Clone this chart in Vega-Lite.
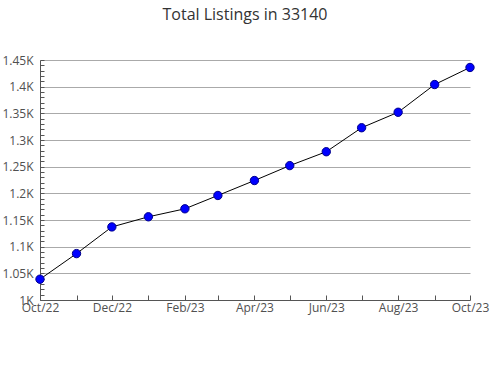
{
  "$schema": "https://vega.github.io/schema/vega-lite/v6.json",
  "autosize": "none",
  "width": 430,
  "height": 240,
  "padding": {"left": 40, "top": 60, "right": 20, "bottom": 80},
  "background": "white",
  "title": {
    "text": "Total Listings in 33140",
    "font": "Open Sans",
    "fontSize": 16,
    "fontWeight": "normal",
    "color": "#333333",
    "anchor": "middle",
    "frame": "group",
    "dx": -10,
    "offset": 31
  },
  "config": {
    "view": {"stroke": null},
    "axis": {"labelFont": "Open Sans", "labelFontSize": 12, "labelColor": "#505050"}
  },
  "data": {
    "values": [
      {"month": "2022-10-01", "listings": 1039},
      {"month": "2022-11-01", "listings": 1087},
      {"month": "2022-12-01", "listings": 1137},
      {"month": "2023-01-01", "listings": 1156},
      {"month": "2023-02-01", "listings": 1171},
      {"month": "2023-03-01", "listings": 1196},
      {"month": "2023-04-01", "listings": 1224},
      {"month": "2023-05-01", "listings": 1252},
      {"month": "2023-06-01", "listings": 1278},
      {"month": "2023-07-01", "listings": 1323},
      {"month": "2023-08-01", "listings": 1352},
      {"month": "2023-09-01", "listings": 1404},
      {"month": "2023-10-01", "listings": 1436}
    ]
  },
  "encoding": {
    "x": {
      "field": "month",
      "type": "temporal",
      "scale": {"type": "utc", "domain": ["2022-10-01", "2023-10-01"], "nice": false},
      "axis": {
        "title": null,
        "grid": false,
        "domainColor": "#555555",
        "tickColor": "#555555",
        "tickSize": -5,
        "labelPadding": 7,
        "tickCount": {"interval": "month", "step": 1},
        "labelExpr": "utcmonth(datum.value) % 2 == 1 ? utcFormat(datum.value, '%b/%y') : ''",
        "labelOverlap": false,
        "labelFlush": false
      }
    },
    "y": {
      "field": "listings",
      "type": "quantitative",
      "scale": {"domain": [1000, 1450], "nice": false, "zero": false},
      "axis": {
        "title": null,
        "values": [1000,1010,1020,1030,1040,1050,1060,1070,1080,1090,1100,1110,1120,1130,1140,1150,1160,1170,1180,1190,1200,1210,1220,1230,1240,1250,1260,1270,1280,1290,1300,1310,1320,1330,1340,1350,1360,1370,1380,1390,1400,1410,1420,1430,1440,1450],
        "labelExpr": "datum.value % 50 == 0 ? (datum.value / 1000) + 'K' : ''",
        "grid": true,
        "gridColor": "#aaaaaa",
        "gridOpacity": {"condition": {"test": "datum.value % 50 == 0 && datum.value > 1000", "value": 1}, "value": 0},
        "domainColor": "#555555",
        "tickColor": "#555555",
        "tickSize": -4,
        "labelPadding": 11,
        "labelOverlap": false,
        "labelFlush": false
      }
    }
  },
  "layer": [
    {"mark": {"type": "line", "color": "black", "strokeWidth": 1}},
    {"mark": {"type": "point", "filled": true, "fill": "#0000ff", "stroke": "#00008b", "strokeWidth": 1, "size": 70, "opacity": 1}}
  ]
}
